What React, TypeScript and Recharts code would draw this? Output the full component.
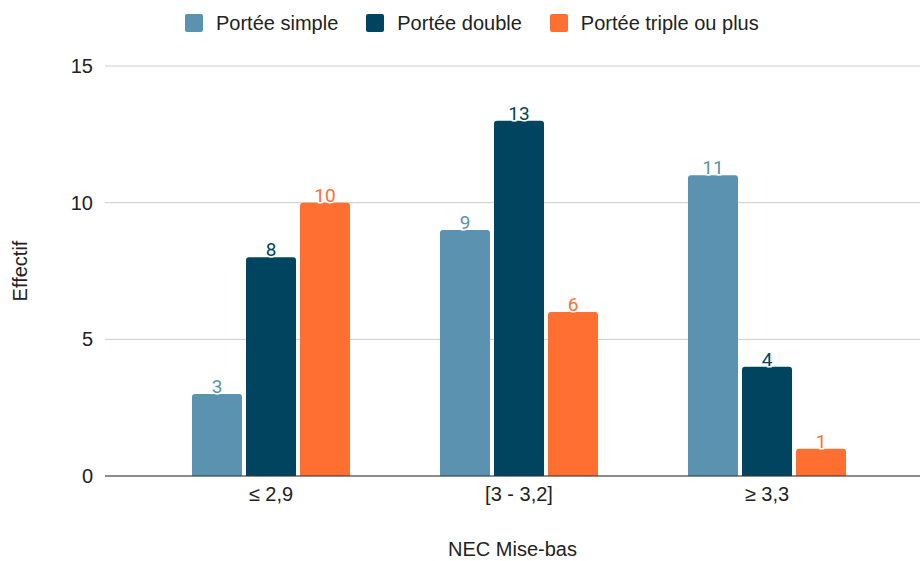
import React from 'react';
import { BarChart, Bar, XAxis, YAxis, CartesianGrid, Legend, LabelList } from 'recharts';

const categories = ['≤ 2,9', '[3 - 3,2]', '≥ 3,3'];
const simpleValues = [3, 9, 11];
const doubleValues = [8, 13, 4];
const tripleValues = [10, 6, 1];
const yTicks = [0, 5, 10, 15];

const seriesNames = ['Portée simple', 'Portée double', 'Portée triple ou plus'];
const seriesKeys = ['simple', 'double', 'triple'];
const seriesColors = ['#5a92b0', '#01445f', '#ff6f32'];

const data = categories.map((c, i) => ({
  cat: c,
  simple: simpleValues[i],
  double: doubleValues[i],
  triple: tripleValues[i],
}));

const FONT = 'Arial, "Liberation Sans", sans-serif';
const FS = 20;

const makeLabel = (color: string) => (props: any) => {
  const { x, y, width, value } = props;
  return (
    <text
      x={Number(x) + Number(width) / 2}
      y={Number(y) - 1}
      textAnchor="middle"
      fill={color}
      stroke="#fff"
      strokeWidth={3}
      paintOrder="stroke"
      style={{ fontFamily: 'Roboto, sans-serif', fontSize: 19 }}
    >
      {value}
    </text>
  );
};

const renderLegend = (props: any) => {
  const payload = [...(props.payload || [])].sort(
    (a: any, b: any) => seriesNames.indexOf(a.value) - seriesNames.indexOf(b.value)
  );
  return (
    <div
      style={{
        height: 46,
        display: 'flex',
        alignItems: 'center',
        paddingLeft: 185,
        fontFamily: FONT,
        fontSize: FS,
        color: '#222',
      }}
    >
      {payload.map((p: any, i: number) => (
        <div key={i} style={{ display: 'flex', alignItems: 'center', marginRight: 28 }}>
          <span
            style={{
              display: 'inline-block',
              width: 18,
              height: 18,
              background: p.color,
              borderRadius: 2,
              marginRight: 13,
            }}
          />
          <span>{p.value}</span>
        </div>
      ))}
    </div>
  );
};

export default function App() {
  return (
    <div>
      <style>{`body{margin:0}`}</style>
      <BarChart
        width={922}
        height={561}
        data={data}
        margin={{ top: 20, right: 2, bottom: 0, left: 0 }}
        barCategoryGap={45}
        barGap={4}
      >
        <CartesianGrid horizontal vertical={false} stroke="#cccccc" />
        <XAxis
          dataKey="cat"
          height={85}
          tickLine={false}
          tickSize={0}
          tickMargin={11}
          axisLine={{ stroke: '#333333' }}
          padding={{ left: 42, right: 29 }}
          tick={{ fontFamily: FONT, fontSize: FS, fill: '#222' }}
          label={{
            value: 'NEC Mise-bas',
            position: 'insideBottom',
            offset: 5,
            style: { fontFamily: FONT, fontSize: FS, fill: '#222' },
          }}
        />
        <YAxis
          width={105}
          domain={[0, 15]}
          ticks={yTicks}
          axisLine={false}
          tickLine={false}
          tickSize={0}
          tickMargin={12}
          tick={{ fontFamily: FONT, fontSize: FS, fill: '#222' }}
          label={{
            value: 'Effectif',
            angle: -90,
            position: 'center',
            dx: -33,
            style: { fontFamily: FONT, fontSize: FS, fill: '#222', textAnchor: 'middle' },
          }}
        />
        <Legend
          verticalAlign="top"
          align="left"
          itemSorter={null as any}
          content={renderLegend}
          wrapperStyle={{ top: 0, left: 0, width: 922 }}
        />
        {seriesKeys.map((k, i) => (
          <Bar
            key={k}
            dataKey={k}
            name={seriesNames[i]}
            fill={seriesColors[i]}
            radius={[3, 3, 0, 0]}
            isAnimationActive={false}
          >
            <LabelList dataKey={k} content={makeLabel(seriesColors[i])} />
          </Bar>
        ))}
      </BarChart>
    </div>
  );
}
